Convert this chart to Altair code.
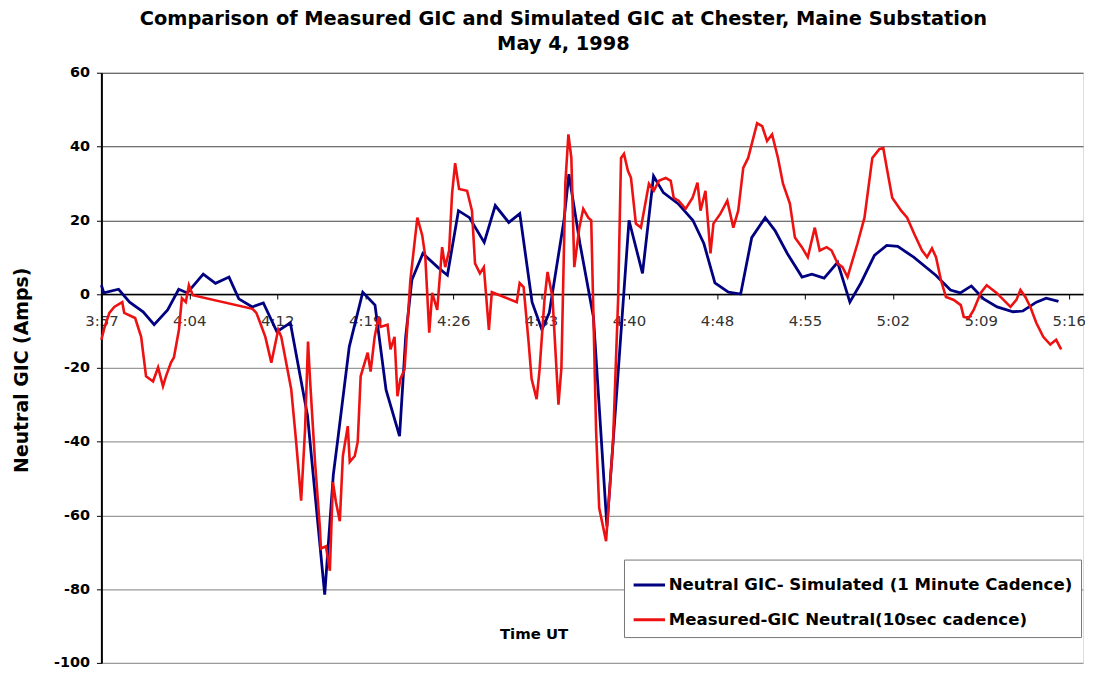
import altair as alt
import pandas as pd

# Time axis: minutes after 3:57 UT
tick_labels = ["3:57", "4:04", "4:12", "4:19", "4:26", "4:33", "4:40",
               "4:48", "4:55", "5:02", "5:09", "5:16"]
tick_step = 43 / 6  # category label spacing (7 min 10 s)

sim_min = [0.0, 0.2, 1.4, 2.3, 3.4, 4.3, 5.4, 6.3, 7.0, 8.3, 9.3, 10.4, 11.2, 12.3,
           13.2, 14.3, 15.4, 16.8, 18.2, 18.9, 19.3, 20.2, 21.3, 22.3, 23.2, 24.3,
           24.8, 25.3, 26.2, 27.4, 28.2, 29.1, 30.0, 31.2, 32.1, 33.2, 34.1, 35.1,
           35.9, 36.5, 37.7, 38.1, 39.0, 40.1, 41.2, 42.1, 43.0, 44.1, 45.0, 45.8,
           47.0, 48.2, 49.1, 50.0, 51.1, 52.1, 53.0, 54.1, 54.9, 55.9, 57.1, 57.9,
           58.9, 60.0, 61.0, 61.9, 63.0, 64.0, 64.9, 66.2, 68.0, 69.2, 70.0, 70.9,
           71.9, 73.0, 74.3, 75.1, 76.2, 77.0, 78.0]
sim_gic = [2.4, 0.3, 1.3, -2.2, -4.8, -8.3, -4.3, 1.3, 0.3, 5.4, 2.9, 4.6, -1.3, -3.5,
           -2.4, -10.2, -7.8, -33.0, -81.5, -49.0, -38.5, -14.3, 0.5, -3.0, -26.0, -38.5,
           -11.6, 3.8, 11.0, 7.3, 5.1, 22.6, 20.7, 14.0, 24.0, 19.4, 21.8, -2.2,
           -9.7, -5.1, 20.0, 32.5, 13.7, -6.2, -63.0, -22.0, 20.0, 5.6, 32.0, 27.5,
           24.5, 20.0, 13.7, 3.0, 0.5, 0.0, 15.3, 20.7, 17.2, 11.0, 4.6, 5.4,
           4.3, 8.6, -2.2, 3.0, 10.5, 13.2, 12.9, 10.0, 5.1, 1.1, 0.3, 2.2,
           -1.3, -3.5, -4.8, -4.6, -2.2, -1.1, -2.0]

meas_min = [0.0, 0.24, 0.65, 1.05, 1.70, 1.86, 2.75, 3.24, 3.64, 4.21, 4.62, 5.02, 5.26,
            5.67, 5.91, 6.32, 6.56, 6.88, 7.13, 7.45, 12.31, 12.63, 12.96, 13.36, 13.85,
            14.41, 14.66, 15.47, 15.87, 16.28, 16.60, 16.84, 17.00, 17.41, 17.81, 17.89,
            18.30, 18.62, 18.87, 19.11, 19.43, 19.68, 20.08, 20.24, 20.65, 20.89, 21.13,
            21.70, 21.94, 22.27, 22.59, 22.75, 23.32, 23.56, 23.89, 24.13, 24.37, 24.70,
            25.18, 25.75, 26.15, 26.40, 26.72, 26.96, 27.37, 27.77, 28.02, 28.34, 28.58,
            28.83, 29.15, 29.80, 30.20, 30.45, 30.85, 31.17, 31.58, 31.82, 33.85, 34.09,
            34.41, 34.82, 35.06, 35.47, 35.71, 36.11, 36.36, 36.76, 37.25, 37.49, 37.81,
            38.06, 38.30, 38.54, 38.95, 39.27, 39.68, 39.92, 40.32, 40.57, 41.13, 41.70,
            42.11, 42.35, 42.59, 42.91, 43.16, 43.56, 43.97, 44.37, 44.62, 45.02, 45.43,
            45.99, 46.40, 46.64, 47.04, 47.61, 48.18, 48.58, 48.83, 49.23, 49.64, 49.88,
            50.45, 51.01, 51.50, 51.90, 52.31, 52.71, 53.44, 53.85, 54.25, 54.66, 55.14,
            55.55, 56.11, 56.52, 57.09, 57.57, 58.14, 58.54, 59.11, 59.51, 60.00, 60.40,
            60.81, 61.62, 62.19, 62.83, 63.40, 63.72, 64.05, 64.45, 65.18, 65.67, 66.23,
            66.88, 67.29, 67.69, 68.02, 68.42, 68.83, 69.47, 70.04, 70.28, 70.69, 71.09,
            71.66, 72.15, 72.96, 74.09, 74.57, 74.90, 75.30, 75.71, 76.19, 76.76, 77.33,
            77.81, 78.22]
meas_gic = [-12.4, -9.2, -5.1, -3.5, -2.2, -5.1, -6.5, -11.6, -22.3, -23.7, -19.9, -25.0, -22.3,
            -18.6, -17.2, -9.7, -1.1, -2.2, 2.4, -0.3, -4.0, -5.1, -8.0, -11.6, -18.6,
            -9.7, -11.6, -25.8, -40.0, -56.0, -36.6, -12.9, -23.0, -45.5, -63.5, -69.0,
            -68.4, -75.0, -51.0, -56.3, -61.6, -43.9, -35.8, -45.5, -43.9, -40.1, -22.3,
            -15.9, -21.0, -11.6, -6.2, -8.9, -8.3, -15.0, -11.6, -27.7, -23.0, -20.5,
            3.8, 20.7, 15.9, 10.0, -10.5, 0.3, -4.3, 12.7, 7.3, 11.8, 27.2,
            35.5, 28.5, 28.0, 22.6, 8.3, 5.6, 7.3, -9.7, 0.5, -2.2, 3.0,
            1.9, -13.2, -23.0, -28.5, -20.5, -1.6, 6.0, -0.8, -30.0, -20.0, 30.0,
            43.3, 36.9, 7.3, 18.0, 23.1, 20.7, 20.0, -37.4, -58.0, -67.0, -40.0,
            -1.6, 36.9, 38.0, 33.4, 31.5, 19.1, 18.0, 25.3, 29.9, 28.0, 30.7,
            31.5, 30.7, 26.1, 25.3, 23.1, 26.1, 30.2, 22.6, 28.0, 11.0, 19.1,
            21.8, 25.3, 18.0, 22.6, 34.2, 36.9, 46.3, 45.5, 41.5, 43.3, 36.9,
            29.9, 24.5, 15.3, 12.7, 10.0, 18.0, 11.8, 12.7, 11.8, 8.3, 7.3,
            4.6, 13.7, 20.7, 36.9, 39.3, 39.6, 33.4, 26.1, 22.6, 20.7, 16.4,
            11.8, 10.0, 12.4, 10.0, 3.8, -0.8, -1.6, -3.0, -6.2, -6.5, -4.3,
            0.3, 2.4, 0.3, -3.5, -1.6, 1.1, -0.8, -3.5, -7.8, -11.6, -13.7,
            -12.4, -15.0]

SIM = "Neutral GIC- Simulated (1 Minute Cadence)"
MEAS = "Measured-GIC Neutral(10sec cadence)"

sim_df = pd.DataFrame({"t": sim_min, "gic": sim_gic, "series": SIM})
meas_df = pd.DataFrame({"t": meas_min, "gic": meas_gic, "series": MEAS})

FONT = "DejaVu Sans"
W, H = 988, 594
Y_MIN, Y_MAX = -100, 60
zero_offset = -H * (0 - Y_MIN) / (Y_MAX - Y_MIN)

label_arr = "[" + ",".join("'%s'" % s for s in tick_labels) + "]"
tick_vals = [i * tick_step for i in range(len(tick_labels))]

color = alt.Color(
    "series:N",
    scale=alt.Scale(domain=[SIM, MEAS], range=["#000080", "#ee1111"]),
    legend=alt.Legend(
        title=None, orient="none", legendX=526, legendY=490,
        symbolType="stroke", symbolSize=1000, symbolStrokeWidth=3,
        labelFont=FONT, labelFontSize=16.7, labelFontWeight="bold", labelColor="black",
        labelLimit=600, labelOffset=2, rowPadding=8, padding=8,
        strokeColor="#777777", fillColor="white", cornerRadius=0,
    ),
)

x_enc = alt.X(
    "t:Q",
    scale=alt.Scale(domain=[0, 80], nice=False, zero=False),
    axis=alt.Axis(
        title="Time UT", titleFont=FONT, titleFontSize=15, titleFontWeight="bold",
        titleColor="black", titleX=435, titleY=342, titleBaseline="middle",
        titleAlign="center",
        values=tick_vals, labelExpr=label_arr + "[round(datum.value / %f)]" % tick_step,
        offset=zero_offset, grid=False, domainColor="black", domainWidth=1.5,
        tickColor="black", tickSize=5, labelFont=FONT, labelFontSize=15,
        labelColor="#333333", labelPadding=15, labelFlush=False, labelOverlap=False,
    ),
)
y_enc = alt.Y(
    "gic:Q",
    scale=alt.Scale(domain=[Y_MIN, Y_MAX], nice=False),
    axis=alt.Axis(
        title="Neutral GIC (Amps)", titleFont=FONT, titleFontSize=19,
        titleFontWeight="bold", titleColor="black", titleX=-80, titleY=H / 2 + 2,
        titleBaseline="middle", titleAlign="center", titleAngle=270,
        values=list(range(Y_MIN, Y_MAX + 1, 20)), labelExpr="'' + datum.value",
        labelFont=FONT, labelFontSize=14.5,
        labelFontWeight="bold", labelColor="black", labelPadding=7,
        domainColor="black", domainWidth=2, tickColor="black", tickSize=5,
        gridColor={"condition": {"test": "datum.value > 0", "value": "#444444"},
                   "value": "#9a9a9a"},
        gridWidth=1.2,
    ),
)

blue = alt.Chart(sim_df).mark_line(strokeWidth=2.8).encode(x=x_enc, y=y_enc, color=color)
red = alt.Chart(meas_df).mark_line(strokeWidth=2.6).encode(x=x_enc, y=y_enc, color=color)

chart = alt.layer(blue, red).properties(
    width=W, height=H,
    autosize="none",
    padding={"left": 94, "top": 63, "right": 2, "bottom": 6},
    title=alt.TitleParams(
        text=["Comparison of Measured GIC and Simulated GIC at Chester, Maine Substation",
              "May 4, 1998"],
        font=FONT, fontSize=19.5, fontWeight="bold", color="black",
        anchor="middle", dx=-29, lineHeight=26, offset=10,
    ),
).configure_view(stroke="#8c8c8c", strokeWidth=3).configure(background="white")

chart.save("out.html", embed_options={"renderer": "svg", "actions": False})
